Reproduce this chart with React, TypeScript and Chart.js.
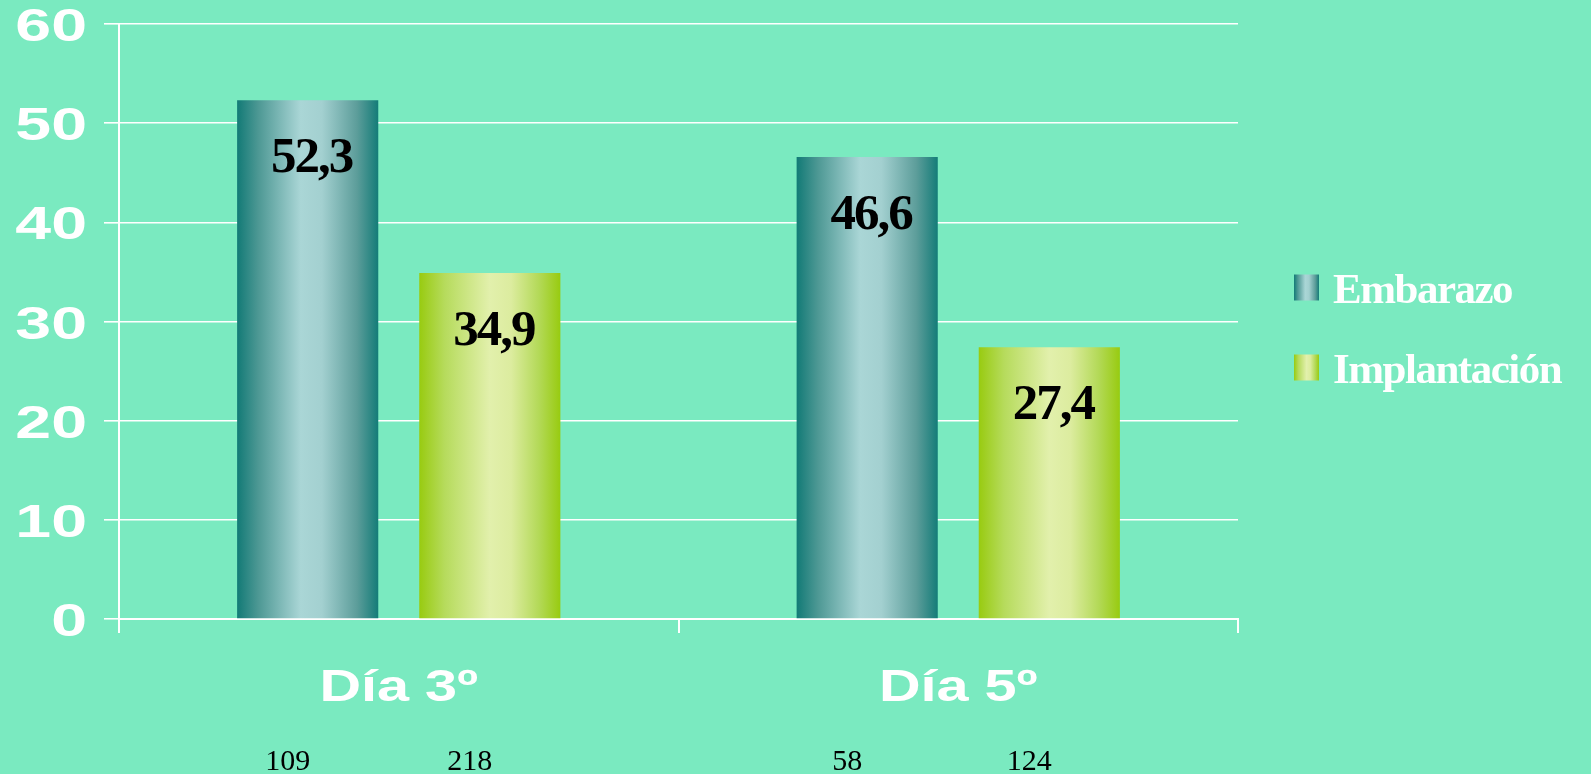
import React, { useEffect, useRef } from "react";
import { Chart, registerables } from "chart.js";

Chart.register(...registerables);

const categories = ["Día 3º", "Día 5º"];
const seriesNames = ["Embarazo", "Implantación"];
const embarazo = [52.3, 46.6];
const implantacion = [34.9, 27.4];
const embarazoCounts = [109, 58];
const implantacionCounts = [218, 124];
const yTickValues = [0, 10, 20, 30, 40, 50, 60];

const BG = "rgb(122,234,192)";
const CAT_PCT = 0.651;
const BAR_PCT = 0.775;

const gradientStops: [number, string][][] = [
  [
    [0, "#127a76"],
    [0.15, "#4d9894"],
    [0.45, "#aad6d6"],
    [0.6, "#a3d0d0"],
    [0.85, "#5c9d9a"],
    [1, "#147c78"],
  ],
  [
    [0, "#98cb10"],
    [0.18, "#b6db5c"],
    [0.5, "#e2f0ac"],
    [0.65, "#dcec9f"],
    [0.85, "#b3d957"],
    [1, "#98cb10"],
  ],
];

function makeGradient(c: CanvasRenderingContext2D, x0: number, x1: number, di: number) {
  const g = c.createLinearGradient(x0, 0, x1, 0);
  for (const [o, col] of gradientStops[di]) g.addColorStop(o, col);
  return g;
}

function barBackground(ctx: any) {
  const chart = ctx.chart;
  const di = ctx.datasetIndex ?? 0;
  const xs = chart.scales?.x;
  if (ctx.type !== "data" || !xs || !chart.chartArea) return gradientStops[di][2][1];
  const n = chart.data.datasets.length;
  const catW = xs.width / chart.data.labels.length;
  const slot = (catW * CAT_PCT) / n;
  const w = slot * BAR_PCT;
  const center = xs.getPixelForValue(ctx.dataIndex) - (catW * CAT_PCT) / 2 + slot * (di + 0.5);
  return makeGradient(chart.ctx, center - w / 2, center + w / 2, di);
}

const countsByDataset = [embarazoCounts, implantacionCounts];

const overlayPlugin = {
  id: "overlay",
  afterDraw(chart: any) {
    const { ctx, chartArea, scales } = chart;
    ctx.save();
    // Y tick labels (stretched sans)
    ctx.fillStyle = "#ffffff";
    ctx.font = 'bold 46px "Liberation Sans", Arial, sans-serif';
    ctx.textAlign = "right";
    ctx.textBaseline = "alphabetic";
    scales.y.ticks.forEach((t: any) => {
      const y = scales.y.getPixelForValue(t.value);
      ctx.save();
      ctx.translate(chartArea.left - 32, y + 17);
      ctx.scale(1.4, 1);
      ctx.fillText(String(t.value), 0, 0);
      ctx.restore();
    });
    // X category labels
    ctx.font = 'bold 45px "Liberation Sans", Arial, sans-serif';
    ctx.textAlign = "center";
    categories.forEach((c, i) => {
      const x = scales.x.getPixelForValue(i);
      ctx.save();
      ctx.translate(x, chartArea.bottom + 82);
      ctx.scale(1.28, 1);
      ctx.fillText(c, 0, 0);
      ctx.restore();
    });

    // Value labels + counts
    chart.data.datasets.forEach((ds: any, di: number) => {
      const meta = chart.getDatasetMeta(di);
      meta.data.forEach((el: any, i: number) => {
        const v = ds.data[i];
        ctx.fillStyle = "#000000";
        ctx.font = 'bold 51px "Liberation Serif", "Times New Roman", serif';
        ctx.textAlign = "center";
        ctx.textBaseline = "alphabetic";
        (ctx as any).letterSpacing = "-2px";
        ctx.fillText(v.toFixed(1).replace(".", ","), el.x + 4, el.y + 72);
        (ctx as any).letterSpacing = "0px";
        ctx.font = '30px "Liberation Serif", "Times New Roman", serif';
        ctx.fillText(String(countsByDataset[di][i]), el.x - 20, chart.height - 4);
      });
    });

    // Legend
    const lx = chartArea.right + 56;
    const midY = (chartArea.top + chartArea.bottom) / 2 + 6;
    seriesNames.forEach((name, di) => {
      const cy = midY - 40 + 80 * di;
      ctx.fillStyle = makeGradient(ctx, lx, lx + 25, di);
      ctx.fillRect(lx, cy - 13, 25, 26);
      ctx.fillStyle = "#ffffff";
      ctx.font = 'bold 43px "Liberation Serif", "Times New Roman", serif';
      ctx.textAlign = "left";
      (ctx as any).letterSpacing = "-1.5px";
      ctx.fillText(name, lx + 39, cy + 15);
      (ctx as any).letterSpacing = "0px";
    });
    ctx.restore();
  },
};

export default function App() {
  const ref = useRef<HTMLCanvasElement | null>(null);
  useEffect(() => {
    document.body.style.margin = "0";
    document.body.style.background = BG;
    const canvas = ref.current;
    if (!canvas) return;
    const chart = new Chart(canvas, {
      type: "bar",
      data: {
        labels: categories,
        datasets: [
          { label: seriesNames[0], data: embarazo, backgroundColor: barBackground, borderWidth: 0 },
          { label: seriesNames[1], data: implantacion, backgroundColor: barBackground, borderWidth: 0 },
        ],
      },
      options: {
        responsive: false,
        animation: false,
        devicePixelRatio: 1,
        layout: { padding: { top: 24, right: 353, left: 0, bottom: 0 } },
        datasets: { bar: { categoryPercentage: CAT_PCT, barPercentage: BAR_PCT } },
        plugins: { legend: { display: false }, tooltip: { enabled: false } },
        scales: {
          x: {
            offset: true,
            afterFit: (s: any) => {
              s.height = 155;
            },
            grid: {
              offset: true,
              color: (c: any) => (c.index === categories.length ? "#ffffff" : "rgba(0,0,0,0)"),
              tickColor: "#ffffff",
              lineWidth: 2,
              tickLength: 14,
              drawTicks: true,
            },
            border: { color: "#ffffff", width: 2 },
            ticks: { color: "rgba(0,0,0,0)", font: { size: 10 }, maxRotation: 0 },
          },
          y: {
            min: 0,
            max: 60,
            afterFit: (s: any) => {
              s.width = 119;
            },
            afterBuildTicks: (s: any) => {
              s.ticks = yTickValues.map((v) => ({ value: v }));
            },
            grid: { color: "#ffffff", lineWidth: 1.6, tickLength: 15, drawTicks: true },
            border: { color: "#ffffff", width: 2 },
            ticks: { color: "rgba(0,0,0,0)", font: { size: 10 }, stepSize: 10 },
          },
        },
      },
      plugins: [overlayPlugin],
    });
    return () => chart.destroy();
  }, []);
  return (
    <div style={{ width: 1591, height: 774, background: BG }}>
      <canvas ref={ref} width={1591} height={774} style={{ display: "block" }} />
    </div>
  );
}
